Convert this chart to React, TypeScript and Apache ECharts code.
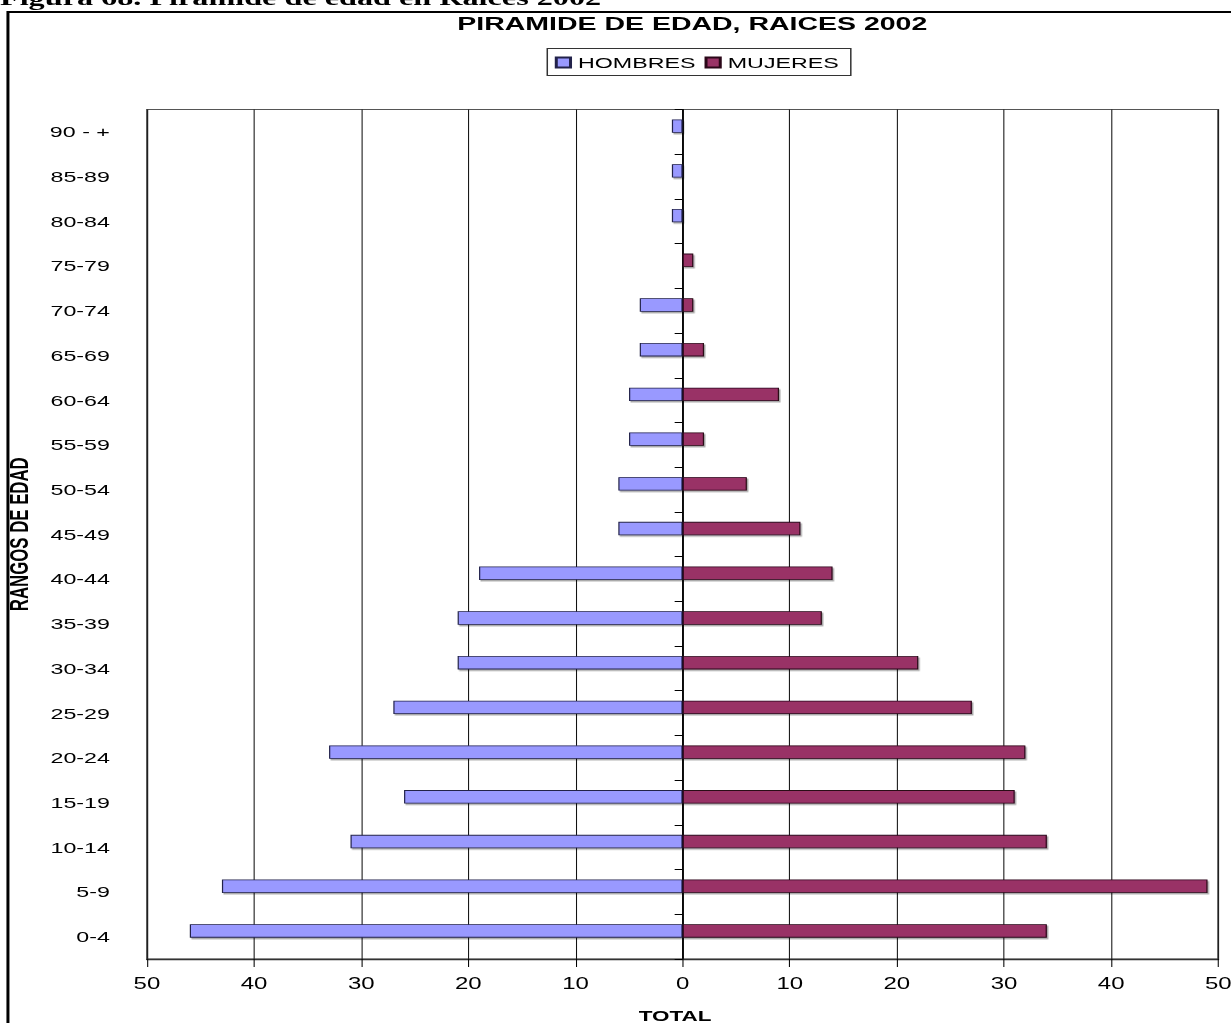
import React, { useEffect, useRef } from "react";
import * as echarts from "echarts";

// ---- data ----
const CATEGORIES = ["0-4", "5-9", "10-14", "15-19", "20-24", "25-29", "30-34", "35-39", "40-44", "45-49", "50-54", "55-59", "60-64", "65-69", "70-74", "75-79", "80-84", "85-89", "90 - +"];
const HOMBRES = [46, 43, 31, 26, 33, 27, 21, 21, 19, 6, 6, 5, 5, 4, 4, 0, 1, 1, 1];
const MUJERES = [34, 49, 34, 31, 32, 27, 22, 13, 14, 11, 6, 2, 9, 2, 1, 1, 0, 0, 0];
const X_MIN = -50;
const X_MAX = 50;
const X_STEP = 10;

const CAPTION = "Figura 68. Pirámide de edad en Raíces 2002";
const TITLE = "PIRAMIDE DE EDAD, RAICES 2002";
const LEGEND = ["HOMBRES", "MUJERES"];
const X_NAME = "TOTAL";
const Y_NAME = "RANGOS DE EDAD";

// The reference picture is stretched horizontally; the chart is drawn at W0 and stretched by K.
const W0 = 821;
const H0 = 1023;
const K = 1231 / W0;

const SANS = "'Liberation Sans', Arial, sans-serif";
const SERIF = "'Liberation Serif', 'Times New Roman', serif";

export default function App() {
  const ref = useRef<HTMLDivElement>(null);

  useEffect(() => {
    document.body.style.overflow = "hidden";
    const chart = echarts.init(ref.current!, null, { renderer: "svg" });
    const barW = 13.4;
    const shadow = {
      shadowColor: "rgba(0,0,0,0.35)",
      shadowOffsetX: 1,
      shadowOffsetY: 1.5,
      shadowBlur: 0,
    };
    chart.setOption({
      animation: false,
      backgroundColor: "#ffffff",
      title: {
        text: TITLE,
        left: 305,
        top: 13.5,
        padding: 0,
        textStyle: { fontFamily: SANS, fontSize: 19, fontWeight: "bold", color: "#000" },
      },
      legend: {
        data: LEGEND,
        left: 365,
        top: 48.5,
        padding: [6, 8, 5, 5],
        itemGap: 6,
        itemWidth: 9.5,
        itemHeight: 10,
        icon: "rect",
        borderColor: "#333",
        borderWidth: 1,
        textStyle: { fontFamily: SANS, fontSize: 15.5, color: "#000" },
      },
      graphic: [
        {
          type: "text",
          x: 0,
          y: -2,
          style: {
            text: CAPTION,
            font: `bold 21.5px ${SERIF}`,
            fill: "#000",
            verticalAlign: "middle",
          },
        },
        {
          type: "rect",
          shape: { x: 5.3, y: 12, width: 2000, height: 2000 },
          style: { fill: "none", stroke: "#000", lineWidth: 2 },
          silent: true,
        },
      ],
      grid: {
        left: 98,
        right: 8.5,
        top: 109.5,
        bottom: 64,
        containLabel: false,
        outerBoundsMode: "none",
        show: true,
        borderColor: "#555",
        borderWidth: 1.2,
        backgroundColor: "#fff",
      },
      xAxis: {
        type: "value",
        min: X_MIN,
        max: X_MAX,
        interval: X_STEP,
        name: X_NAME,
        nameLocation: "middle",
        nameGap: 49,
        nameTextStyle: { fontFamily: SANS, fontSize: 15, fontWeight: "bold", color: "#000", padding: [0, 10, 0, 0] },
        axisLine: { show: true, onZero: false, lineStyle: { color: "#333", width: 1.3 } },
        axisTick: { show: true, length: 8, lineStyle: { color: "#000", width: 0.7 } },
        axisLabel: {
          fontFamily: SANS,
          fontSize: 16,
          color: "#000",
          margin: 17,
          formatter: (v: number) => String(Math.abs(v)),
        },
        splitLine: { show: true, lineStyle: { color: "#111", width: 0.7 } },
      },
      yAxis: [
        {
          type: "category",
          data: CATEGORIES,
          position: "left",
          name: Y_NAME,
          nameLocation: "middle",
          nameGap: 76.5,
          nameTextStyle: { fontFamily: SANS, fontSize: 16.8, fontWeight: "bold", color: "#000" },
          axisLine: { show: false, onZero: false },
          axisTick: { show: false },
          axisLabel: { fontFamily: SANS, fontSize: 15.5, color: "#000", margin: 24.7 },
          splitLine: { show: false },
        },
        {
          type: "category",
          data: CATEGORIES,
          position: "left",
          axisLine: { show: true, onZero: true, lineStyle: { color: "#000", width: 1.2 } },
          axisTick: { show: true, length: 5.3, lineStyle: { color: "#000", width: 1 } },
          axisLabel: { show: false },
          splitLine: { show: false },
        },
      ],
      series: [
        {
          name: LEGEND[0],
          type: "bar",
          stack: "pyr",
          yAxisIndex: 0,
          barWidth: barW,
          barGap: "-15%",
          data: HOMBRES.map((v) => (v === 0 ? "-" : -v)),
          itemStyle: { color: "#9999FF", borderColor: "#22224a", borderWidth: 0.8, ...shadow },
        },
        {
          name: LEGEND[1],
          type: "bar",
          stack: "pyr",
          yAxisIndex: 0,
          barWidth: barW,
          barGap: "-15%",
          data: MUJERES.map((v) => (v === 0 ? "-" : v)),
          itemStyle: { color: "#993366", borderColor: "#2a0718", borderWidth: 0.8, ...shadow },
        },
        {
          name: "_spacer",
          type: "bar",
          stack: "spacer",
          yAxisIndex: 0,
          barWidth: barW,
          barGap: "-15%",
          data: CATEGORIES.map(() => "-"),
          itemStyle: { color: "transparent" },
          silent: true,
        },
      ],
    });
    return () => chart.dispose();
  }, []);

  return (
    <div
      ref={ref}
      style={{
        position: "absolute",
        left: 0,
        top: 0,
        width: W0,
        height: H0,
        transform: `scaleX(${K})`,
        transformOrigin: "0 0",
      }}
    />
  );
}
